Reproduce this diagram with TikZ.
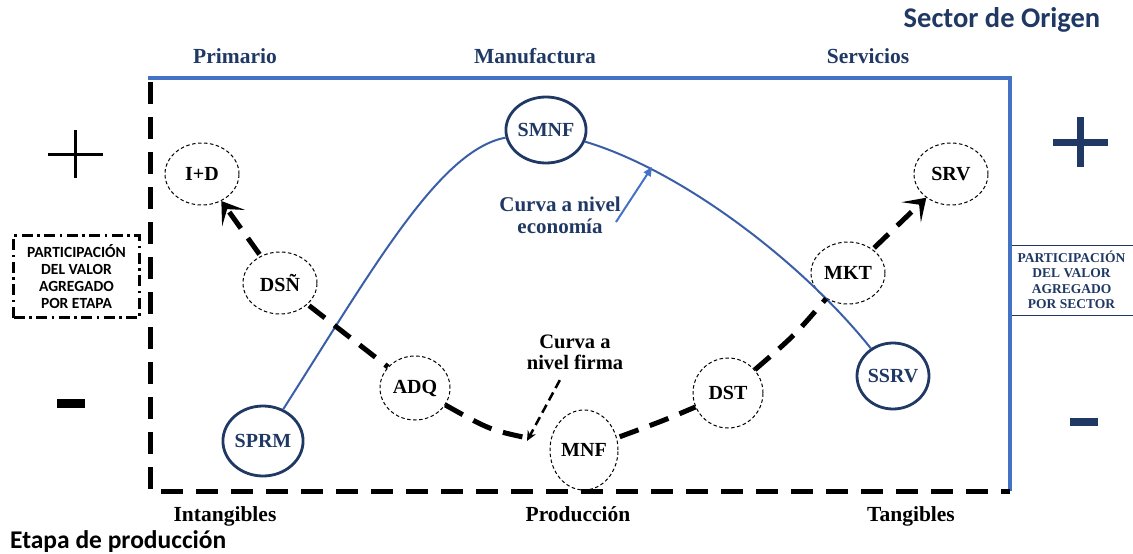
\documentclass[tikz,border=0pt]{standalone}
\usepackage{fontspec}
\setmainfont{Liberation Serif}
\newfontfamily\calfont{Carlito}
\usetikzlibrary{shapes.geometric,arrows.meta}
\definecolor{navy}{HTML}{1F3864}
\definecolor{midblue}{HTML}{4472C4}
\definecolor{curveblue}{HTML}{3A5FA8}
\begin{document}
\begin{tikzpicture}[x=1pt,y=-1pt,
  lbl/.style={font=\fontsize{21.5}{23}\selectfont\bfseries, inner sep=0pt},
  stagenode/.style={ellipse, draw, line width=1pt, dash pattern=on 3.5pt off 2.5pt,
    minimum width=74pt, minimum height=62pt, inner sep=0pt,
    font=\fontsize{20}{22}\selectfont\bfseries},
  sectornode/.style={ellipse, draw=navy, line width=2.8pt, minimum width=72pt,
    minimum height=66pt, inner sep=0pt, text=navy,
    font=\fontsize{20}{22}\selectfont\bfseries},
  firm/.style={line width=5pt, dash pattern=on 20pt off 12pt},
  firmtip/.style={-{Stealth[length=21pt,width=28pt,inset=11pt]}},
  econ/.style={curveblue, line width=2pt},
  signbar/.style={line width=3pt},
]
\useasboundingbox (0,0) rectangle (1133,554);

% frame
\draw[midblue, line width=4pt] (148,78) -- (1010,78) -- (1010,491);
\draw[line width=5pt, dash pattern=on 22pt off 13pt] (150,82) -- (150,491) -- (1010,491);

% titles
\node[font=\calfont\bfseries\fontsize{28.5}{30}\selectfont, text=navy, inner sep=0pt] (sector) at (1002,20) {Sector de Origen};
\node[font=\calfont\bfseries\fontsize{25.5}{27}\selectfont, anchor=base west, inner sep=0pt] (etapa) at (10,548) {Etapa de producción};

\node[lbl, text=navy, anchor=base] (prim) at (235,63) {Primario};
\node[lbl, text=navy, anchor=base] (manu) at (535,63) {Manufactura};
\node[lbl, text=navy, anchor=base] (serv) at (868,63) {Servicios};

\node[lbl, anchor=base] (intang) at (225,521) {Intangibles};
\node[lbl, anchor=base] (prod) at (578,521) {Producción};
\node[lbl, anchor=base] (tang) at (911,521) {Tangibles};

% signs
\draw[signbar] (48,154) -- (103,154);
\draw[signbar] (75.5,130) -- (75.5,178);
\draw[line width=9pt] (57,403) -- (85,403);
\draw[navy, line width=7pt] (1053,142) -- (1108,142);
\draw[navy, line width=7pt] (1080.5,117) -- (1080.5,167);
\draw[navy, line width=8pt] (1070,422) -- (1098,422);

% side boxes
\node[draw, line width=2.5pt, dash pattern=on 11pt off 4.5pt on 2.5pt off 4.5pt,
  minimum width=126pt, minimum height=82pt, align=center, inner sep=0pt,
  font=\calfont\bfseries\fontsize{15.5}{17}\selectfont] (pe) at (76.5,276.5)
  {PARTICIPACIÓN\\DEL VALOR\\AGREGADO\\POR ETAPA};
\node[draw=navy, line width=1pt, fill=white, minimum width=123pt, minimum height=70pt,
  align=center, inner sep=0pt, text=navy,
  font=\bfseries\fontsize{13.5}{15.5}\selectfont] (ps) at (1071.5,280)
  {PARTICIPACIÓN\\DEL VALOR\\AGREGADO\\POR SECTOR};
\draw[midblue, line width=4pt] (1010,240) -- (1010,320);

% stage nodes
\node[stagenode] (ids) at (202,174) {I+D};
\node[stagenode] (dsn) at (280,283) {DSÑ};
\node[stagenode, minimum width=70pt, minimum height=64pt] (adq) at (415,388) {ADQ};
\node[stagenode, minimum width=68pt, minimum height=80pt] (mnf) at (584,450) {MNF};
\node[stagenode, minimum width=70pt, minimum height=70pt] (dst) at (728,393) {DST};
\node[stagenode] (mkt) at (848,273) {MKT};
\node[stagenode] (srv) at (951,174) {SRV};

% sector nodes
\node[sectornode] (smnf) at (546,130) {SMNF};
\node[sectornode, minimum width=70pt, minimum height=70pt] (sprm) at (263,441) {SPRM};
\node[sectornode] (ssrv) at (893,376) {SSRV};

% economy curve
\draw[econ] (sprm) .. controls (375,265) and (440,150) .. (smnf);
\draw[econ] (smnf) .. controls (680,170) and (800,260) .. (ssrv);

% firm curve
\draw[firm, firmtip, shorten <=2pt] (dsn) -- (ids);
\draw[firm, shorten <=2pt] (dsn) -- (adq);
\draw[firm, shorten >=20pt] (adq) .. controls (490,430) .. (mnf);
\draw[firm, shorten <=3pt] (mnf) .. controls (665,420) .. (dst);
\draw[firm] (dst) .. controls (795,335) .. (mkt);
\draw[firm, firmtip, shorten <=2pt] (mkt) -- (srv);

% labels with arrows
\node[lbl, text=navy, align=center, font=\fontsize{21}{22}\selectfont\bfseries] (econlbl) at (560,215) {Curva a nivel\\economía};
\coordinate (ea1) at (616,222);
\coordinate (ea2) at (652,167);
\draw[midblue, line width=2pt, -{Triangle[length=9pt,width=8pt]}] (ea1) -- (ea2);

\node[lbl, align=center, font=\fontsize{20.5}{21}\selectfont\bfseries] (firmlbl) at (575,352) {Curva a\\nivel firma};
\coordinate (fa2) at (527,441);
\draw[line width=2.5pt, dash pattern=on 9pt off 5pt, shorten <=12pt, -{Stealth[length=10pt,width=9pt]}] (firmlbl) -- (fa2);
\end{tikzpicture}
\end{document}
